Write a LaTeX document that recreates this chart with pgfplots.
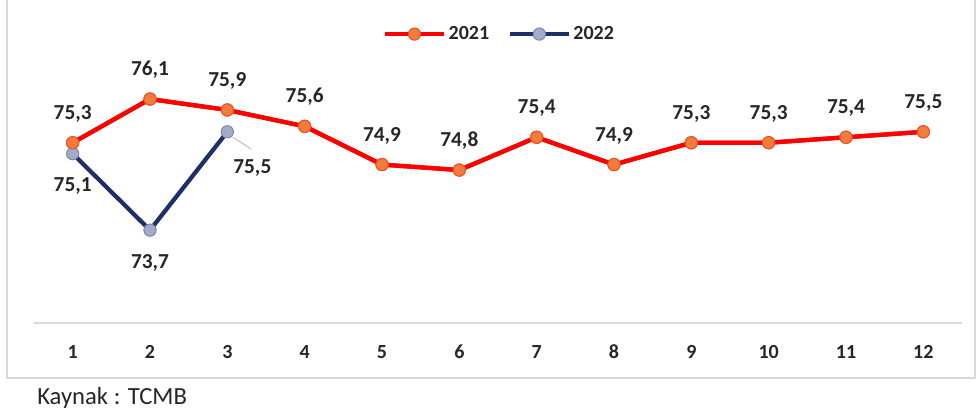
\documentclass[border=0pt]{standalone}
\usepackage{fontspec}
\setmainfont{Carlito}
\usepackage{pgfplots}
\pgfplotsset{compat=1.18}
\definecolor{redline}{HTML}{FF0000}
\definecolor{orangefill}{HTML}{F47B3E}
\definecolor{orangeedge}{HTML}{E9541E}
\definecolor{navy}{HTML}{1F3068}
\definecolor{bluefill}{HTML}{A3ABC6}
\definecolor{blueedge}{HTML}{7D87A6}
\definecolor{gridgray}{HTML}{D9D9D9}
\definecolor{txt}{HTML}{262626}
\begin{document}
\begin{tikzpicture}[x=1pt,y=1pt]
\useasboundingbox (-25.5,-66.75) rectangle (708.75,242.25);
\draw[gridgray, line width=1pt] (-20.25,250) -- (-20.25,-41.25) -- (705.75,-41.25) -- (705.75,250);
\begin{axis}[
  at={(0,0)}, anchor=south west,
  scale only axis, width=696pt, height=234.75pt,
  xmin=0.5, xmax=12.5, ymin=72, ymax=77.73,
  axis x line=bottom, axis y line=none,
  x axis line style={gridgray, line width=1.5pt, -},
  xtick={1,2,3,4,5,6,7,8,9,10,11,12},
  xticklabels={1,2,3,4,5,6,7,8,9,10,11,12},
  ytick=\empty, major tick length=0pt,
  xticklabel style={font=\fontsize{15}{16}\selectfont\bfseries, text=txt, anchor=center, yshift=-21.75pt},
  clip=false,
  /pgf/number format/.cd, assume math mode=true, use comma, fixed, fixed zerofill, precision=1, /pgfplots/.cd,
  legend columns=2,
  legend style={draw=none, fill=none, at={(0.502,0.923)}, anchor=center,
    font=\fontsize{15}{16}\selectfont\bfseries, text=txt,
    /tikz/every even column/.append style={column sep=12pt}},
  legend image code/.code={\draw[mark repeat=2,mark phase=2,#1] plot coordinates {(0pt,0pt) (22pt,0pt) (44pt,0pt)};},
]
\addplot[redline, line width=3.2pt, mark=*, mark size=4.6pt, mark options={fill=orangefill, draw=orangeedge, line width=0.75pt}]
  coordinates {(1,75.3)(2,76.1)(3,75.9)(4,75.6)(5,74.9)(6,74.8)(7,75.4)(8,74.9)(9,75.3)(10,75.3)(11,75.4)(12,75.5)};
\addlegendentry{2021}
\addplot[navy, line width=3.2pt, mark=*, mark size=4.6pt, mark options={fill=bluefill, draw=blueedge, line width=0.75pt}]
  coordinates {(1,75.1)(2,73.7)(3,75.5)};
\addlegendentry{2022}
\addplot[forget plot, redline, line width=3.2pt, mark=*, mark size=4.6pt, mark options={fill=orangefill, draw=orangeedge, line width=0.75pt},
  nodes near coords,
  every node near coord/.append style={font=\fontsize{16}{17}\selectfont\bfseries, text=txt, anchor=south, inner sep=0pt, yshift=15pt}]
  coordinates {(1,75.3)(2,76.1)(3,75.9)(4,75.6)(5,74.9)(6,74.8)(7,75.4)(8,74.9)(9,75.3)(10,75.3)(11,75.4)(12,75.5)};
\addplot[forget plot, draw=none, mark=none, nodes near coords,
  every node near coord/.append style={font=\fontsize{16}{17}\selectfont\bfseries, text=txt, anchor=north, inner sep=0pt, yshift=-18pt}]
  coordinates {(1,75.1)(2,73.7)};
\addplot[forget plot, draw=none, mark=none, nodes near coords,
  every node near coord/.append style={font=\fontsize{16}{17}\selectfont\bfseries, text=txt, anchor=center, inner sep=0pt, xshift=18.75pt, yshift=-27pt}]
  coordinates {(3,75.5)};
\draw[gray!50, line width=0.75pt] (axis cs:3,75.5) ++(4pt,-4pt) -- ++(14pt,-9pt);
\end{axis}
\node[anchor=west, inner sep=0pt, font=\fontsize{18.5}{20}\selectfont, text=txt] at (2.25,-56) {Kaynak : TCMB};
\end{tikzpicture}
\end{document}
